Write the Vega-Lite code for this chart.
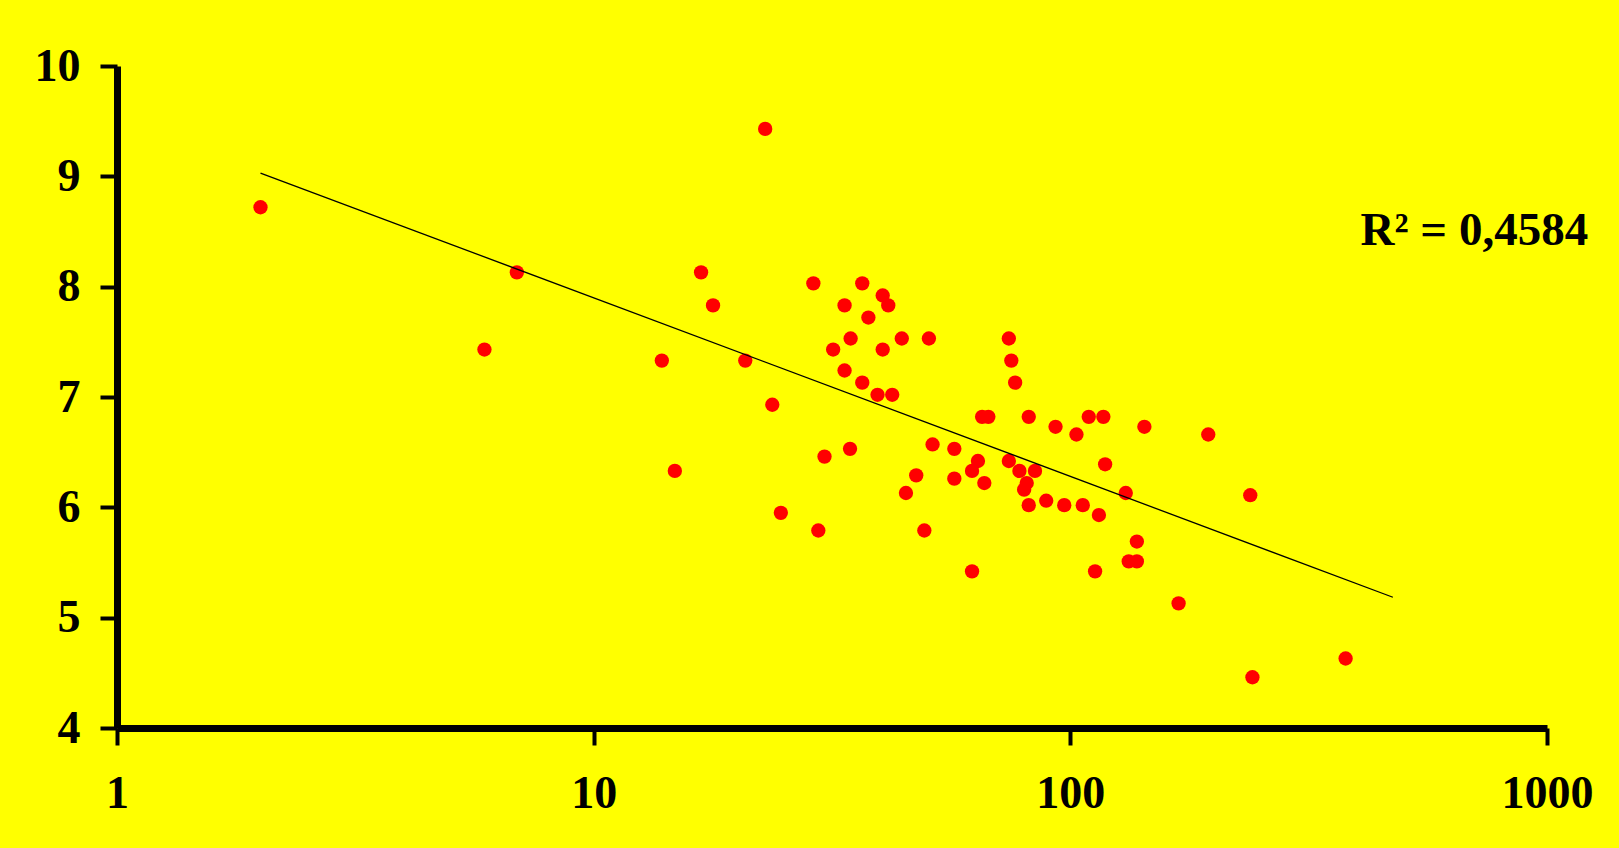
{
  "$schema": "https://vega.github.io/schema/vega-lite/v6.json",
  "autosize": {"type": "none"},
  "padding": {"left": 117, "top": 66, "right": 72, "bottom": 120},
  "width": 1430,
  "height": 662,
  "background": "#ffff00",
  "config": {
    "view": {"stroke": null},
    "axis": {
      "grid": false,
      "labelFont": "Liberation Serif",
      "labelFontWeight": "bold",
      "labelFontSize": 46,
      "labelColor": "#000000",
      "domainColor": "#000000",
      "domainWidth": 7,
      "tickColor": "#000000",
      "tickWidth": 4,
      "tickSize": 17,
      "title": null
    }
  },
  "layer": [
    {
      "data": {"values": [
        {"x": 2.0, "y": 8.72}, {"x": 5.9, "y": 7.43}, {"x": 6.9, "y": 8.13}, {"x": 13.9, "y": 7.33},
        {"x": 14.8, "y": 6.33}, {"x": 16.8, "y": 8.13}, {"x": 17.8, "y": 7.83}, {"x": 20.8, "y": 7.33},
        {"x": 22.9, "y": 9.43}, {"x": 23.7, "y": 6.93}, {"x": 24.7, "y": 5.95}, {"x": 28.9, "y": 8.03},
        {"x": 29.6, "y": 5.79}, {"x": 30.5, "y": 6.46}, {"x": 31.8, "y": 7.43}, {"x": 33.6, "y": 7.83},
        {"x": 33.6, "y": 7.24}, {"x": 34.6, "y": 7.53}, {"x": 34.5, "y": 6.53}, {"x": 36.6, "y": 8.03},
        {"x": 36.6, "y": 7.13}, {"x": 37.7, "y": 7.72}, {"x": 39.4, "y": 7.02}, {"x": 40.4, "y": 7.92},
        {"x": 40.4, "y": 7.43}, {"x": 41.5, "y": 7.83}, {"x": 42.3, "y": 7.02}, {"x": 44.3, "y": 7.53},
        {"x": 45.2, "y": 6.13}, {"x": 47.5, "y": 6.29}, {"x": 49.4, "y": 5.79}, {"x": 50.5, "y": 7.53},
        {"x": 51.4, "y": 6.57}, {"x": 57.1, "y": 6.53}, {"x": 57.1, "y": 6.26}, {"x": 62.2, "y": 5.42},
        {"x": 62.2, "y": 6.33}, {"x": 64.0, "y": 6.42}, {"x": 65.3, "y": 6.82}, {"x": 66.0, "y": 6.22},
        {"x": 67.3, "y": 6.82}, {"x": 74.3, "y": 7.53}, {"x": 74.3, "y": 6.42}, {"x": 75.2, "y": 7.33},
        {"x": 76.6, "y": 7.13}, {"x": 78.2, "y": 6.33}, {"x": 80.0, "y": 6.16}, {"x": 81.0, "y": 6.22},
        {"x": 81.8, "y": 6.82}, {"x": 81.8, "y": 6.02}, {"x": 84.3, "y": 6.33}, {"x": 89.0, "y": 6.06},
        {"x": 93.1, "y": 6.73}, {"x": 97.1, "y": 6.02}, {"x": 103.0, "y": 6.66}, {"x": 106.2, "y": 6.02},
        {"x": 109.3, "y": 6.82}, {"x": 112.7, "y": 5.42}, {"x": 114.8, "y": 5.93}, {"x": 117.3, "y": 6.82},
        {"x": 118.3, "y": 6.39}, {"x": 130.7, "y": 6.13}, {"x": 132.6, "y": 5.51}, {"x": 137.9, "y": 5.51},
        {"x": 137.9, "y": 5.69}, {"x": 143.0, "y": 6.73}, {"x": 168.7, "y": 5.13}, {"x": 194.7, "y": 6.66},
        {"x": 238.5, "y": 6.11}, {"x": 241.0, "y": 4.46}, {"x": 378.0, "y": 4.63}
      ]},
      "mark": {"type": "circle", "color": "#ff0000", "opacity": 1, "size": 205},
      "encoding": {
        "x": {"field": "x", "type": "quantitative",
              "scale": {"type": "log", "domain": [1, 1000], "nice": false},
              "axis": {"values": [1, 10, 100, 1000], "format": "d", "labelPadding": 26, "labelAlign": "center"}},
        "y": {"field": "y", "type": "quantitative",
              "scale": {"domain": [4, 10], "nice": false, "zero": false},
              "axis": {"values": [4, 5, 6, 7, 8, 9, 10], "format": "d", "labelPadding": 20}}
      }
    },
    {
      "data": {"values": [{"x": 2.0, "y": 9.03}, {"x": 475, "y": 5.185}]},
      "mark": {"type": "line", "color": "#000000", "strokeWidth": 1.3},
      "encoding": {
        "x": {"field": "x", "type": "quantitative"},
        "y": {"field": "y", "type": "quantitative"}
      }
    },
    {
      "data": {"values": [{"label": "R² = 0,4584", "x": 1220, "y": 8.38}]},
      "mark": {"type": "text", "align": "right", "baseline": "alphabetic", "font": "Liberation Serif", "fontWeight": "bold", "fontSize": 47, "color": "#000000", "clip": false},
      "encoding": {
        "x": {"field": "x", "type": "quantitative"},
        "y": {"field": "y", "type": "quantitative"},
        "text": {"field": "label"}
      }
    }
  ]
}
